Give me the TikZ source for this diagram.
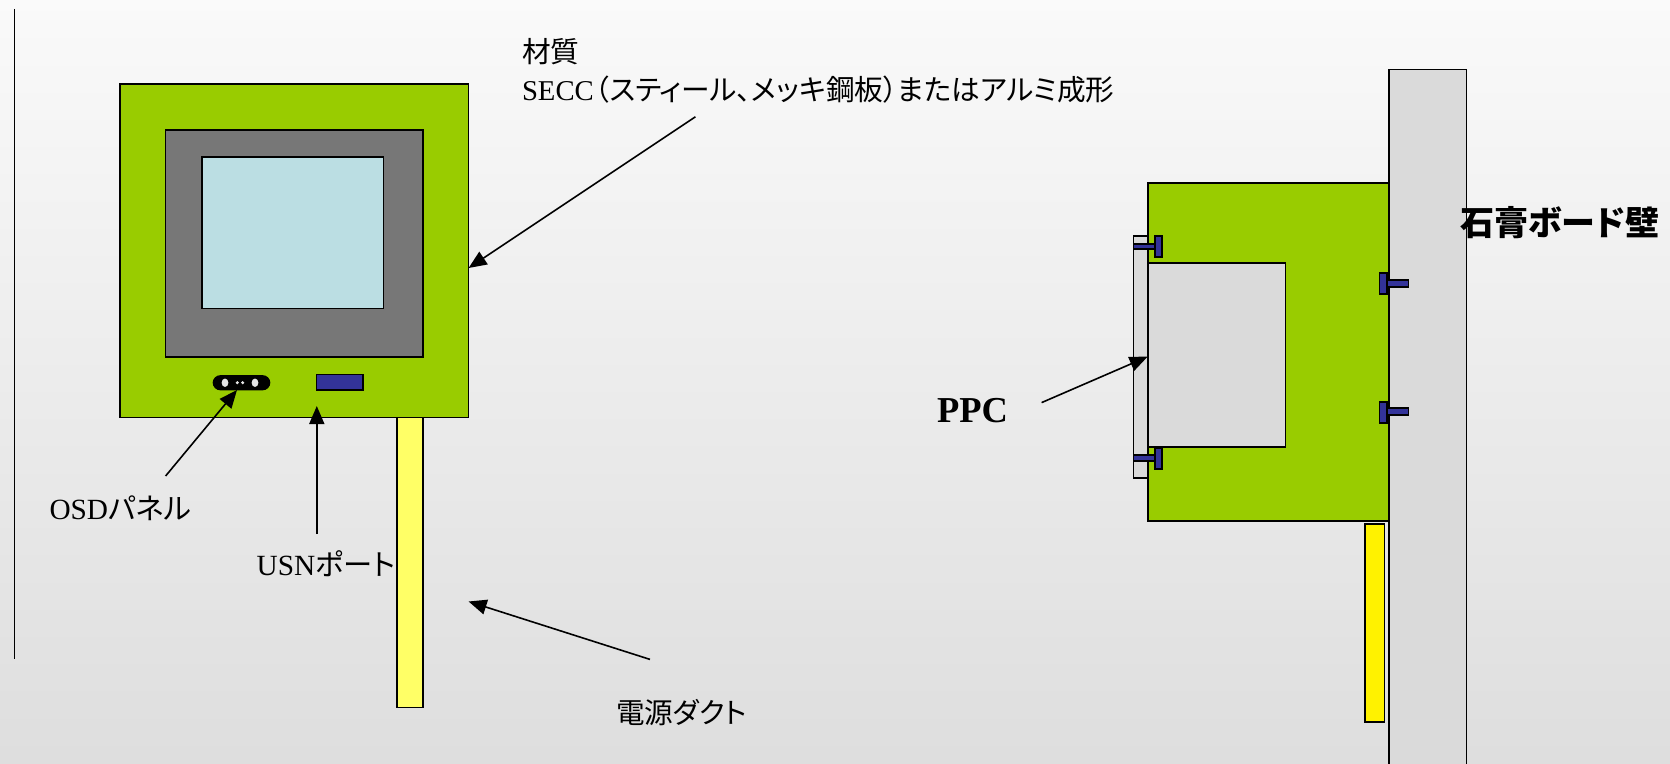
\documentclass[tikz,border=0pt]{standalone}
\usepackage{fontspec}
\usetikzlibrary{arrows.meta,shapes.geometric}
\setmainfont{Liberation Serif}
\newfontfamily\cjk[RawFeature=+palt]{Noto Sans CJK JP}
\definecolor{grn}{HTML}{99CC00}
\definecolor{scr}{HTML}{BBDEE3}
\definecolor{frm}{HTML}{777777}
\definecolor{blu}{HTML}{333399}
\definecolor{pal}{HTML}{FFFF66}
\definecolor{lgr}{HTML}{DADADA}
\tikzset{
  part/.style={rectangle,draw=black,line width=1.7pt,inner sep=0pt,outer sep=0pt},
  bolt/.style={part,fill=blu,line width=1.7pt},
  pointer/.style={line width=1.6pt,-{Triangle[length=18pt,width=15pt]}},
  lbl/.style={inner sep=0pt,outer sep=0pt,font=\fontsize{29.3}{37.5}\selectfont,anchor=west},
  dot/.style={ellipse,fill=white!90!black,inner sep=0pt,outer sep=0pt}
}
\newcommand{\rectnode}[6]{%
  \pgfmathsetmacro\rectw{#5-#3}\pgfmathsetmacro\recth{#6-#4}%
  \node[#1,minimum width=\rectw pt,minimum height=\recth pt] (#2) at ({(#3+#5)/2},{(#4+#6)/2}) {};}
\begin{document}
\begin{tikzpicture}[x=1pt,y=-1pt]
\useasboundingbox (0,0) rectangle (1670,763);
\shade[top color=black!2,bottom color=black!13] (0,0) rectangle (1670,763);
% left wall line
\coordinate (ls) at (14.4,8.8);
\coordinate (le) at (14.4,659);
\draw[line width=1.6pt] (ls) -- (le);
% front view
\rectnode{part,fill=pal}{duct}{397}{417.5}{422.8}{707.5}
\rectnode{part,fill=grn}{outer}{120.3}{84.2}{468.6}{417.5}
\rectnode{part,fill=frm}{frame}{165.6}{130}{422.8}{357}
\rectnode{part,fill=scr}{screen}{201.8}{157}{383.4}{308.5}
\rectnode{part,fill=black,rounded corners=7pt}{osd}{213.5}{376}{269.5}{389.5}
\node[dot,minimum width=6.8pt,minimum height=8.4pt] (d1) at (225,382.7) {};
\node[dot,minimum width=6.8pt,minimum height=8.4pt] (d2) at (255,382.7) {};
\node[dot,minimum width=3.4pt,minimum height=3.4pt] (d3) at (237.3,382.7) {};
\node[dot,minimum width=3.4pt,minimum height=3.4pt] (d4) at (242.7,382.7) {};
\rectnode{part,fill=blu}{usb}{316.5}{374.5}{363}{390.2}
% side view
\rectnode{part,fill=lgr}{wall}{1389}{69.5}{1466.4}{770}
\rectnode{part,fill=yellow}{sduct}{1365}{524}{1384.6}{722}
\rectnode{part,fill=grn}{body}{1148.3}{183.3}{1389}{521}
\rectnode{part,fill=lgr}{plate}{1133.4}{236}{1148.3}{477.7}
\rectnode{part,fill=lgr}{ppc}{1148.3}{263}{1285.4}{447.3}
\rectnode{bolt}{s1}{1133.4}{243.7}{1155}{249.3}
\rectnode{bolt}{h1}{1155}{236}{1162.2}{256.7}
\rectnode{bolt}{s2}{1133.4}{455}{1155}{461.3}
\rectnode{bolt}{h2}{1155}{447.7}{1162.2}{469}
\rectnode{bolt}{s3}{1387}{280}{1408.6}{287}
\rectnode{bolt}{h3}{1379.5}{273.3}{1387}{294.3}
\rectnode{bolt}{s4}{1387}{408.3}{1408.6}{415.3}
\rectnode{bolt}{h4}{1379.5}{401.7}{1387}{422.7}
% labels
\node[lbl,anchor=north west,align=left,font=\fontsize{28.7}{37.5}\selectfont] (mat) at (522,38.5) {{\cjk 材質}\\SECC\kern1.5pt{\cjk （スティール、メッキ鋼板）またはアルミ成形}};
\node[lbl] (osdl) at (49.5,508) {OSD{\cjk パネル}};
\node[lbl] (usnl) at (256.7,563.5) {USN{\cjk ポート}};
\node[lbl,font=\fontsize{28.6}{36}\selectfont] (ductl) at (616,713) {\cjk 電源ダクト};
\node[lbl,font=\fontsize{36.5}{44}\selectfont\bfseries] (ppcl) at (937,411) {PPC};
\node[lbl,font=\fontsize{34}{40}\selectfont\bfseries] (walll) at (1460.6,222.7) {\cjk 石膏ボード壁};
% connectors
\coordinate (a1s) at (695.4,116.8);
\coordinate (a1e) at (outer.east |- 0,268);
\draw[pointer] (a1s) -- (a1e);
\coordinate (a2s) at (165.6,476);
\coordinate (a2e) at (237,390);
\draw[pointer] (a2s) -- (a2e);
\coordinate (a3s) at (316.8,534);
\coordinate (a3e) at (316.8,406);
\draw[pointer] (a3s) -- (a3e);
\coordinate (a4s) at (650,659.4);
\coordinate (a4e) at (468.6,601.5);
\draw[pointer] (a4s) -- (a4e);
\coordinate (a5s) at (1041.6,402.6);
\coordinate (a5e) at (1147.6,356.7);
\draw[pointer] (a5s) -- (a5e);
\end{tikzpicture}
\end{document}
